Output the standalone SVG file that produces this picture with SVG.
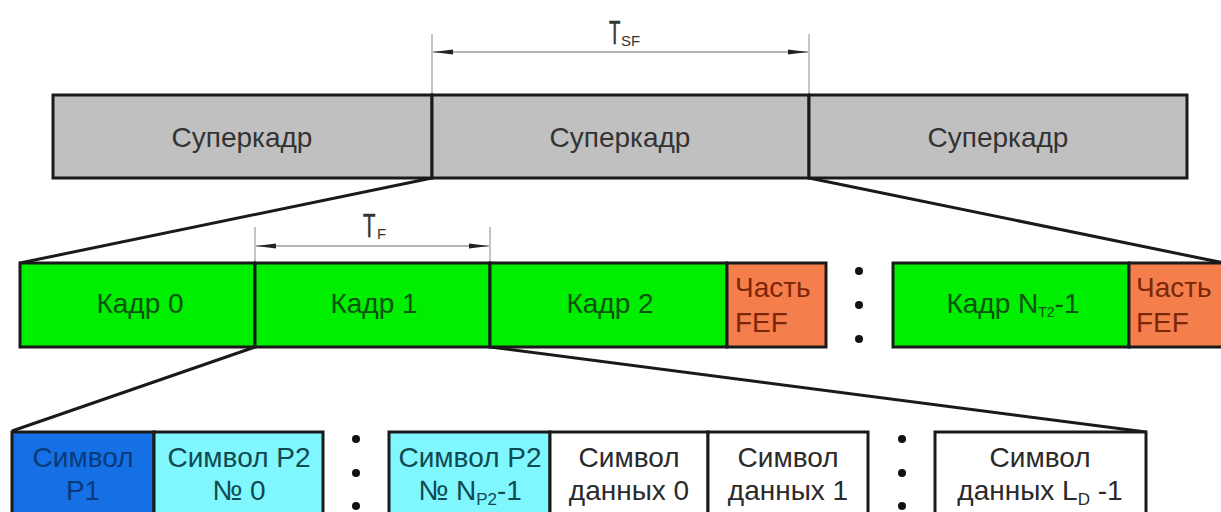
<svg xmlns="http://www.w3.org/2000/svg" width="1221" height="512" viewBox="0 0 1221 512">
<style>
text{font-family:"Liberation Sans",Arial,sans-serif}
.box{stroke:#1a1a1a;stroke-width:3}
.sf{fill:#c0c0c0}
.fr{fill:#00ee00}
.fef{fill:#f47e4c}
.p1{fill:#1470e4}
.p2{fill:#80f6ff}
.dt{fill:#ffffff}
.tsf{font-size:28px;fill:#333333;text-anchor:middle}
.tfr{font-size:28px;fill:#0c5210;text-anchor:middle}
.tfef{font-size:28px;fill:#7c2608}
.tp1{font-size:28px;fill:#0a3a7a;text-anchor:middle}
.tp2{font-size:28px;fill:#0e4a50;text-anchor:middle}
.tdt{font-size:28px;fill:#2a2a2a;text-anchor:middle}
.sub{font-size:14px}
.dim{stroke:#6a6a6a;stroke-width:1.2;fill:none}
.ext{stroke:#8a8a8a;stroke-width:1}
.link{stroke:#1a1a1a;stroke-width:3;fill:none}
.dot{fill:#111}
.tdim{font-size:34px;fill:#333;stroke:#333;stroke-width:0.6}
</style>
<defs>
<marker id="ah" viewBox="0 0 20 6" refX="20" refY="3" markerWidth="20" markerHeight="6" markerUnits="userSpaceOnUse" orient="auto-start-reverse">
<path d="M0,0.6 L20,3 L0,5.4 Z" fill="#222"/>
</marker>
</defs>

<g id="connectors">
<line class="link" x1="432" y1="178" x2="20" y2="263"/>
<line class="link" x1="809" y1="178" x2="1224" y2="263"/>
<line class="link" x1="255" y1="347" x2="12" y2="431"/>
<line class="link" x1="490" y1="347" x2="1146" y2="432"/>
</g>

<g id="dim-tsf">
<line class="ext" x1="432" y1="34" x2="432" y2="94"/>
<line class="ext" x1="809" y1="34" x2="809" y2="94"/>
<line class="dim" x1="433" y1="52" x2="808" y2="52" marker-start="url(#ah)" marker-end="url(#ah)"/>
<text x="609" y="44" class="tdim" transform="translate(609,0) scale(0.55,1) translate(-609,0)">T</text>
<text x="621" y="46" style="font-size:15px;fill:#333">SF</text>
</g>

<g id="dim-tf">
<line class="ext" x1="255" y1="227" x2="255" y2="263"/>
<line class="ext" x1="490" y1="227" x2="490" y2="263"/>
<line class="dim" x1="256" y1="246" x2="489" y2="246" marker-start="url(#ah)" marker-end="url(#ah)"/>
<text x="363" y="237" class="tdim" transform="translate(363,0) scale(0.6,1) translate(-363,0)">T</text>
<text x="377" y="239" style="font-size:15px;fill:#333">F</text>
</g>

<g id="superframe-0"><rect class="box sf" x="53" y="95" width="379" height="83"/><text class="tsf" x="242" y="147">Суперкадр</text></g>
<g id="superframe-1"><rect class="box sf" x="432" y="95" width="377" height="83"/><text class="tsf" x="620" y="147">Суперкадр</text></g>
<g id="superframe-2"><rect class="box sf" x="809" y="95" width="378" height="83"/><text class="tsf" x="998" y="147">Суперкадр</text></g>

<g id="frame-0"><rect class="box fr" x="20" y="263" width="235" height="84"/><text class="tfr" x="140" y="313">Кадр 0</text></g>
<g id="frame-1"><rect class="box fr" x="255" y="263" width="235" height="84"/><text class="tfr" x="374" y="313">Кадр 1</text></g>
<g id="frame-2"><rect class="box fr" x="490" y="263" width="237" height="84"/><text class="tfr" x="610" y="313">Кадр 2</text></g>
<g id="fef-1"><rect class="box fef" x="727" y="263" width="99" height="84"/><text class="tfef" x="735" y="297">Часть</text><text class="tfef" x="735" y="332">FEF</text></g>
<g id="frame-dots"><circle class="dot" cx="859" cy="271" r="4"/><circle class="dot" cx="859" cy="305" r="4"/><circle class="dot" cx="859" cy="339" r="4"/></g>
<g id="frame-n"><rect class="box fr" x="893" y="263" width="236" height="84"/><text class="tfr" x="1013" y="313">Кадр N<tspan class="sub" font-size="13" dy="4">T2</tspan><tspan dy="-4">-1</tspan></text></g>
<g id="fef-2"><rect class="box fef" x="1129" y="263" width="100" height="84"/><text class="tfef" x="1136" y="297">Часть</text><text class="tfef" x="1136" y="332">FEF</text></g>

<g id="sym-p1"><rect class="box p1" x="12" y="432" width="142" height="90"/><text class="tp1" x="83" y="467">Символ</text><text class="tp1" x="83" y="500">P1</text></g>
<g id="sym-p2-0"><rect class="box p2" x="154" y="432" width="169" height="90"/><text class="tp2" x="239" y="467">Символ P2</text><text class="tp2" x="239" y="500">№ 0</text></g>
<g id="sym-dots-1"><circle class="dot" cx="356" cy="439" r="4"/><circle class="dot" cx="356" cy="473" r="4"/><circle class="dot" cx="356" cy="506" r="4"/></g>
<g id="sym-p2-n"><rect class="box p2" x="389" y="432" width="161" height="90"/><text class="tp2" x="470" y="467">Символ P2</text><text class="tp2" x="470" y="500">№ N<tspan font-size="17" dy="5">P2</tspan><tspan dy="-5">-1</tspan></text></g>
<g id="sym-data-0"><rect class="box dt" x="550" y="432" width="158" height="90"/><text class="tdt" x="629" y="467">Символ</text><text class="tdt" x="629" y="500">данных 0</text></g>
<g id="sym-data-1"><rect class="box dt" x="708" y="432" width="160" height="90"/><text class="tdt" x="788" y="467">Символ</text><text class="tdt" x="788" y="500">данных 1</text></g>
<g id="sym-dots-2"><circle class="dot" cx="902" cy="439" r="4"/><circle class="dot" cx="902" cy="473" r="4"/><circle class="dot" cx="902" cy="506" r="4"/></g>
<g id="sym-data-n"><rect class="box dt" x="935" y="432" width="211" height="90"/><text class="tdt" x="1040" y="467">Символ</text><text class="tdt" x="1040" y="500">данных L<tspan font-size="17" dy="5">D</tspan><tspan dy="-5"> -1</tspan></text></g>
</svg>
